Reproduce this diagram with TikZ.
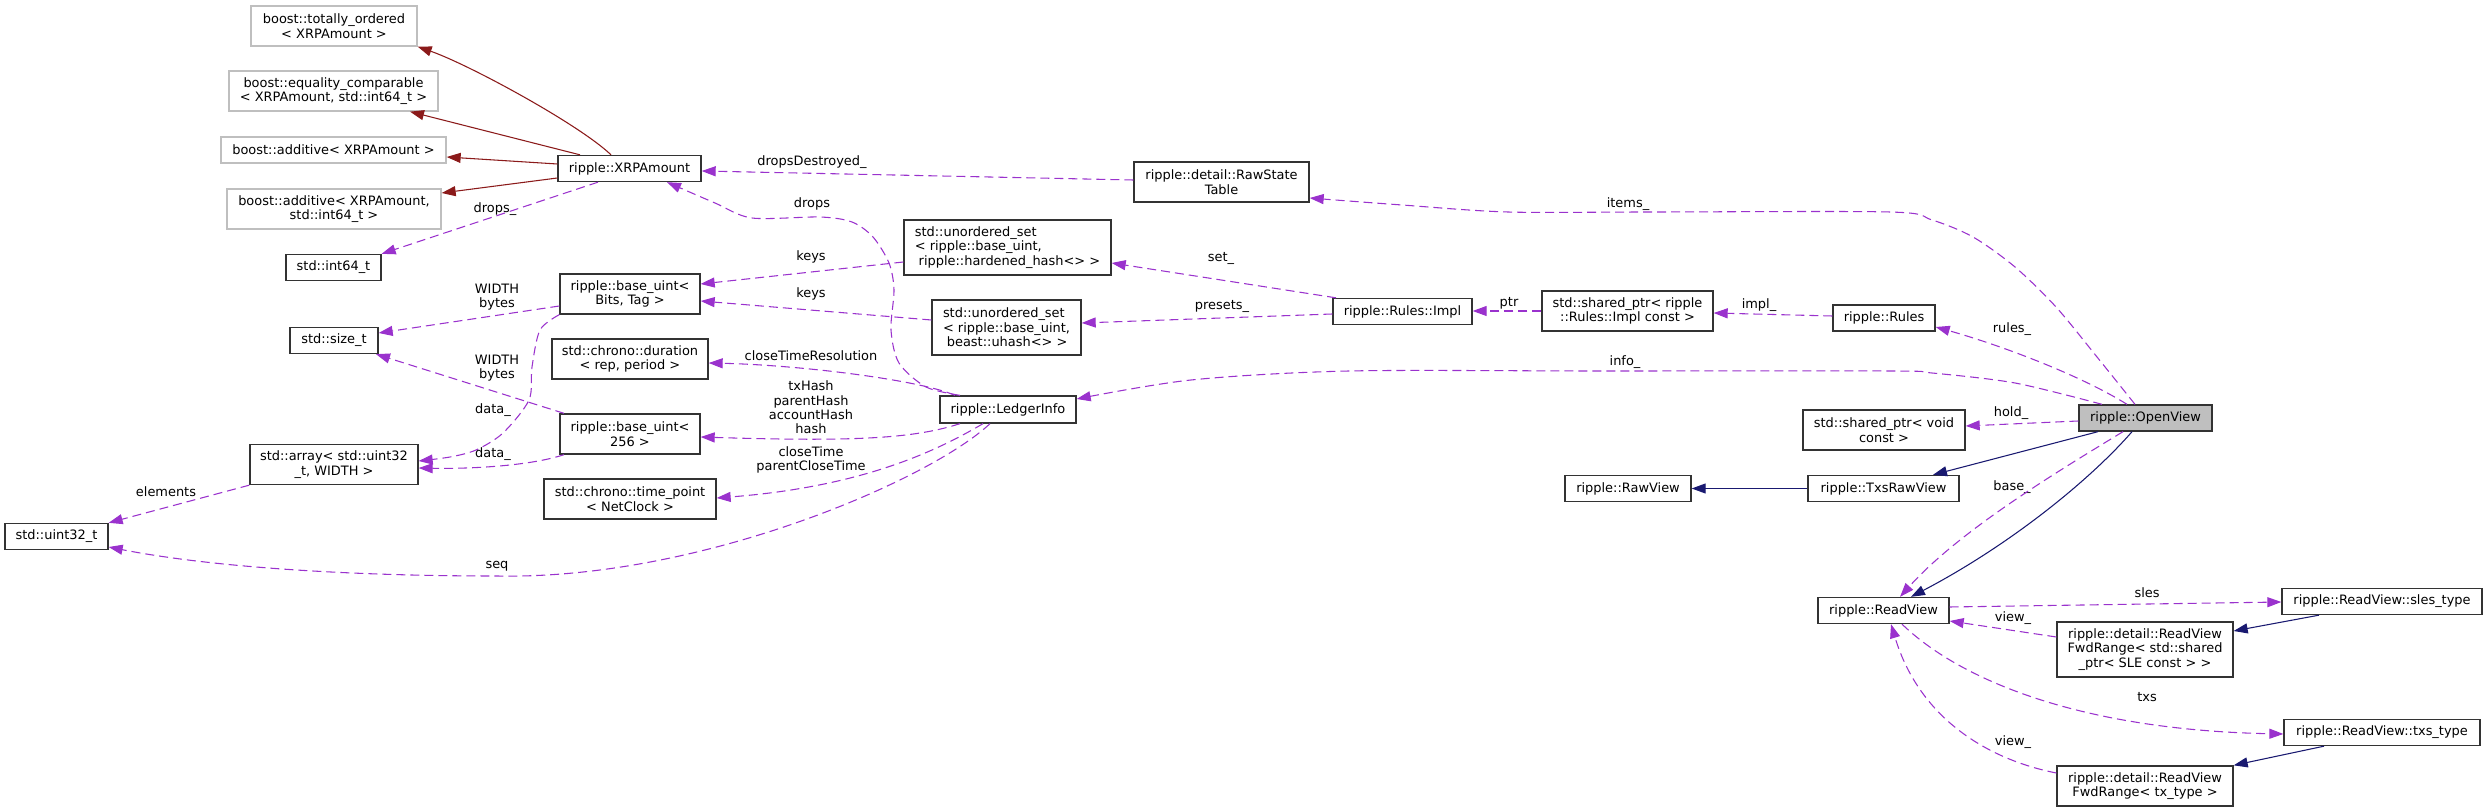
\documentclass[tikz,border=0pt]{standalone}
\usepackage{fontspec}
\setmainfont{DejaVu Sans}
\usetikzlibrary{arrows.meta}
\definecolor{orch}{HTML}{9A32CD}
\definecolor{mblue}{HTML}{191970}
\definecolor{fbrick}{HTML}{8B1A1A}
\definecolor{ovgray}{HTML}{BFBFBF}
\definecolor{gborder}{HTML}{BFBFBF}
\begin{document}
\begin{tikzpicture}[x=0.75pt,y=-0.75pt,
  font=\fontsize{9.7}{10.8}\selectfont,
  sz/.style 2 args={minimum width=#1*0.75pt, minimum height=#2*0.75pt},
  box/.style={draw=black!80, line width=1pt, fill=white, inner sep=1pt, align=center},
  gbox/.style={box, draw=gborder},
  lbl/.style={inner sep=0pt, align=center},
  tip/.style={-{Triangle[length=10.5pt,width=7.5pt]}},
  rel/.style={draw=orch, line width=0.8pt, dash pattern=on 6.75pt off 3.75pt, tip},
  inhR/.style={draw=fbrick, line width=0.8pt, tip},
  inhB/.style={draw=mblue, line width=0.8pt, tip}]
\useasboundingbox (0,0) rectangle (2488,812);

% nodes
\node[gbox, sz={166}{40}] (to) at (334,26) {boost::totally\_ordered\\< XRPAmount >};
\node[gbox, sz={209}{40}] (eq) at (333.5,91) {boost::equality\_comparable\\< XRPAmount, std::int64\_t >};
\node[gbox, sz={225}{26}] (add1) at (333.5,150) {boost::additive< XRPAmount >};
\node[gbox, sz={214}{40}] (add2) at (334,209) {boost::additive< XRPAmount,\\std::int64\_t >};
\node[box, sz={143}{26}] (xrp) at (629.5,168.5) {ripple::XRPAmount};
\node[box, sz={95}{26}] (int64) at (333.5,267.5) {std::int64\_t};
\node[box, sz={140}{40}] (bu) at (630,294) {ripple::base\_uint<\\Bits, Tag >};
\node[box, sz={88}{26}] (sizet) at (334,340.5) {std::size\_t};
\node[box, sz={156}{40}] (dur) at (630,359) {std::chrono::duration\\< rep, period >};
\node[box, sz={140}{40}] (bu256) at (630,434) {ripple::base\_uint<\\256 >};
\node[box, sz={168}{40}] (arr) at (334,464.5) {std::array< std::uint32\\\_t, WIDTH >};
\node[box, sz={103}{26}] (u32) at (56.5,536.5) {std::uint32\_t};
\node[box, sz={172}{40}] (tp) at (630,499) {std::chrono::time\_point\\< NetClock >};
\node[box, sz={175}{40}] (rst) at (1221.5,182) {ripple::detail::RawState\\Table};
\node[box, sz={207}{55}, align=left] (ush) at (1007.5,247.5) {std::unordered\_set\\< ripple::base\_uint,\\\hspace*{.3em}ripple::hardened\_hash<> >};
\node[box, sz={149}{55}, align=left] (usu) at (1006.5,327.5) {std::unordered\_set\\< ripple::base\_uint,\\\hspace*{.3em}beast::uhash<> >};
\node[box, sz={139}{26}] (impl) at (1402.5,311.5) {ripple::Rules::Impl};
\node[box, sz={171}{40}] (spimpl) at (1627.5,311) {std::shared\_ptr< ripple\\::Rules::Impl const >};
\node[box, sz={136}{27}] (li) at (1008,409.5) {ripple::LedgerInfo};
\node[box, sz={126}{26}] (rawview) at (1628,488.5) {ripple::RawView};
\node[box, sz={102}{26}] (rules) at (1884,318) {ripple::Rules};
\node[box, sz={162}{40}] (spvoid) at (1884,430) {std::shared\_ptr< void\\const >};
\node[box, sz={133}{26}, fill=ovgray] (ov) at (2145.5,418) {ripple::OpenView};
\node[box, sz={151}{26}] (txsraw) at (1883.5,488.5) {ripple::TxsRawView};
\node[box, sz={131}{26}] (rv) at (1883.5,610.5) {ripple::ReadView};
\node[box, sz={200}{26}] (sles) at (2382,601.5) {ripple::ReadView::sles\_type};
\node[box, sz={176}{55}] (fwd1) at (2145,649.5) {ripple::detail::ReadView\\FwdRange< std::shared\\\_ptr< SLE const > >};
\node[box, sz={196}{26}] (txs) at (2382,732.5) {ripple::ReadView::txs\_type};
\node[box, sz={176}{40}] (fwd2) at (2145,786) {ripple::detail::ReadView\\FwdRange< tx\_type >};

% labels
\node[lbl] (l1) at (495,209) {drops\_};
\node[lbl] (l2) at (812,162) {dropsDestroyed\_};
\node[lbl] (l3) at (812,204) {drops};
\node[lbl] (l4) at (811,257) {keys};
\node[lbl] (l5) at (811,294) {keys};
\node[lbl] (l6) at (497,297) {WIDTH\\bytes};
\node[lbl] (l7) at (497,368) {WIDTH\\bytes};
\node[lbl] (l8) at (493,410) {data\_};
\node[lbl] (l9) at (493,454) {data\_};
\node[lbl] (l10) at (166,492) {elements};
\node[lbl] (l11) at (811,356) {closeTimeResolution};
\node[lbl] (l12) at (811,407.5) {txHash\\parentHash\\accountHash\\hash};
\node[lbl] (l13) at (811,460) {closeTime\\parentCloseTime};
\node[lbl] (l14) at (497,566) {seq};
\node[lbl] (l15) at (1221,258) {set\_};
\node[lbl] (l16) at (1222,306) {presets\_};
\node[lbl] (l17) at (1509,303) {ptr};
\node[lbl] (l18) at (1759,305) {impl\_};
\node[lbl] (l19) at (1628,204) {items\_};
\node[lbl] (l20) at (2012,329) {rules\_};
\node[lbl] (l21) at (1625,362) {info\_};
\node[lbl] (l22) at (2011,413) {hold\_};
\node[lbl] (l23) at (2012,487) {base\_};
\node[lbl] (l24) at (2147,593) {sles};
\node[lbl] (l25) at (2013,618) {view\_};
\node[lbl] (l26) at (2147,697) {txs};
\node[lbl] (l27) at (2013,742) {view\_};

% inheritance (private)
\draw[inhR] (xrp.north -| 611,0) .. controls (580,125) and (470,65) .. (to.south east);
\draw[inhR] (xrp.north -| 580,0) -- (eq.south -| 410,0);
\draw[inhR] (xrp.west |- 0,164) -- (add1.east |- 0,157);
\draw[inhR] (xrp.west |- 0,178) -- (add2.east |- 0,193);

% usage
\draw[rel] (xrp.south -| 598,0) -- (int64.north east);
\draw[rel] (rst.west |- 0,180) -- (xrp.east |- 0,171);
\draw[rel] plot[smooth] coordinates {(li.north -| 960,0) (926,387) (899,363) (891,330) (894,290) (889,263) (873,237) (852,222) (820,217) (752,218) (715,203) (xrp.south -| 667,0)};
\draw[rel] (ush.west |- 0,262) -- (bu.east |- 0,284);
\draw[rel] (usu.west |- 0,320) -- (bu.east |- 0,301);
\draw[rel] (bu.west |- 0,306) -- (sizet.east |- 0,333);
\draw[rel] (bu256.north -| 564,0) -- (sizet.south -| 376,0);
\draw[rel] plot[smooth] coordinates {(bu.south west) (540,330) (532,367) (529,400) (503,433) (476,450) (450,457) (arr.east |- 0,461)};
\draw[rel] (bu256.south -| 564,0) .. controls (530,466) and (470,469) .. (arr.east |- 0,468);
\draw[rel] (arr.south west) -- (u32.north east);
\draw[rel] (li.north -| 955,0) .. controls (920,380) and (800,365) .. (dur.east |- 0,363);
\draw[rel] (li.south -| 960,0) .. controls (915,438) and (860,442) .. (bu256.east |- 0,437);
\draw[rel] (li.south -| 983,0) .. controls (935,452) and (860,487) .. (tp.east |- 0,498);
\draw[rel] (li.south -| 990,0) .. controls (930,480) and (700,580) .. (497,576) .. controls (330,576) and (200,565) .. (u32.east |- 0,547);
\draw[rel] (impl.north -| 1336,0) -- (ush.east |- 0,263);
\draw[rel] (impl.west |- 0,314) -- (usu.east |- 0,323);
\draw[rel] (spimpl.west |- 0,311) -- (impl.east |- 0,311);
\draw[rel] (rules.west |- 0,316) -- (spimpl.east |- 0,313);
\draw[rel] (ov.north -| 2127,0) .. controls (2080,375) and (2000,345) .. (rules.east |- 0,327);
\draw[rel] plot[smooth] coordinates {(ov.north -| 2135,0) (2097,357) (2056,307) (2015,267) (1973,237) (1932,220) (1890,212) (1650,212) (1508,212) (1402,205) (rst.east |- 0,198)};
\draw[rel] plot[smooth] coordinates {(ov.north -| 2102,0) (2015,383) (1932,373) (1890,371) (1600,371) (1349,371) (1191,380) (li.east |- 0,399)};
\draw[rel] (ov.west |- 0,421) -- (spvoid.east |- 0,426);
\draw[rel] (ov.south -| 2123,0) .. controls (2060,470) and (1960,530) .. (rv.north -| 1900,0);
\draw[rel] (rv.east |- 0,607) -- (sles.west |- 0,602);
\draw[rel] (fwd1.west |- 0,637) -- (rv.east |- 0,621);
\draw[rel] (rv.south -| 1902,0) .. controls (1960,680) and (2080,730) .. (txs.west |- 0,734);
\draw[rel] (fwd2.west |- 0,773) .. controls (1990,760) and (1920,720) .. (rv.south -| 1891,0);

% inheritance (public)
\draw[inhB] (ov.south -| 2098,0) -- (txsraw.north -| 1933,0);
\draw[inhB] (txsraw.west) -- (rawview.east);
\draw[inhB] (ov.south -| 2132,0) .. controls (2090,480) and (2010,545) .. (rv.north -| 1911,0);
\draw[inhB] (sles.south -| 2319,0) -- (fwd1.east |- 0,631);
\draw[inhB] (txs.south -| 2324,0) -- (fwd2.north east);
\end{tikzpicture}
\end{document}
